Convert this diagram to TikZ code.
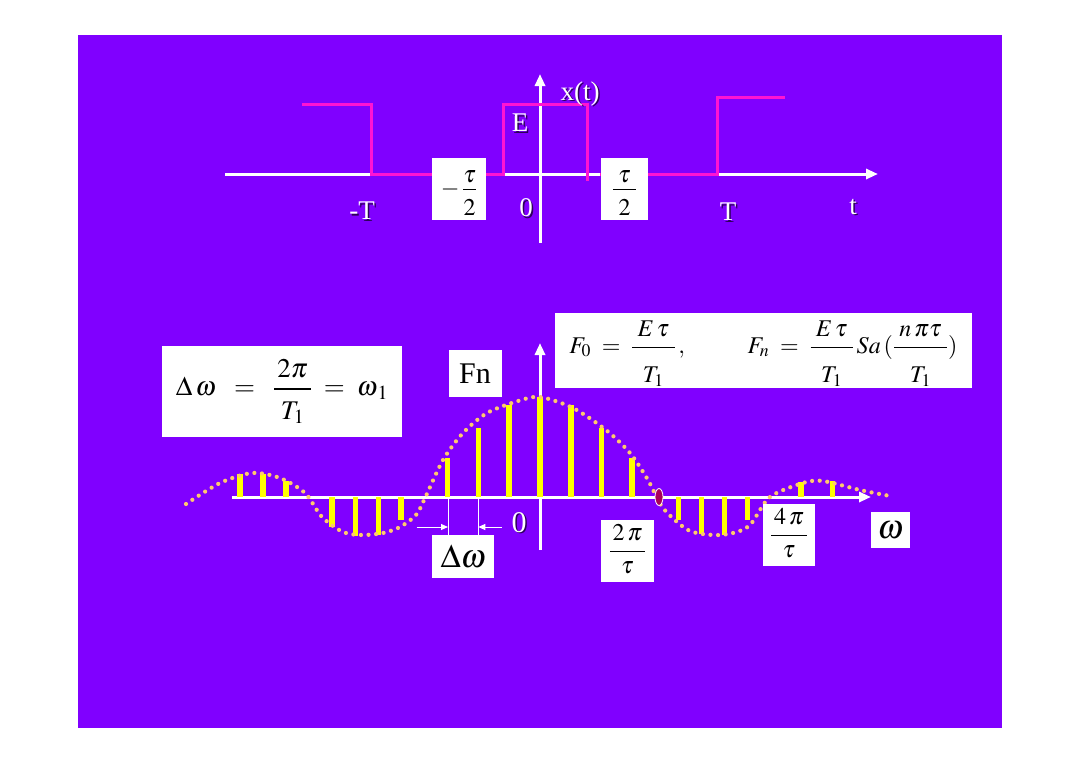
\documentclass[tikz,border=0pt]{standalone}
\usepackage{mathptmx}
\usepackage{fontspec}
\setmainfont{Liberation Serif}
\usetikzlibrary{arrows.meta,positioning}

\definecolor{slidebg}{RGB}{128,0,255}
\definecolor{pulsepink}{RGB}{255,20,210}
\definecolor{baryellow}{RGB}{255,255,0}
\definecolor{dotorange}{RGB}{255,200,110}
\definecolor{zerored}{RGB}{170,0,90}
\definecolor{shadowviolet}{RGB}{45,0,90}

\newcommand\fs[1]{\fontsize{#1}{#1}\selectfont}
\newcommand\bfrac[3][1.1em]{{\displaystyle\frac{#2}{\rule{0pt}{#1}#3}}}
\newcommand\lowtau{\raisebox{-4pt}{$\tau$}}
\newcommand\shlabel[4]{%
	\node[lblshadow,font=\fs{#3}] at ([xshift=1.5pt,yshift=-1.5pt]#2) {#4};
	\node[lbl,font=\fs{#3}] (#1) at (#2) {#4};}

\tikzset{
	axisline/.style={white, line width=3pt, -{Triangle[length=12pt,width=10pt]}},
	pulseline/.style={pulsepink, line width=3pt},
	wbox/.style={fill=white, inner sep=0pt, text=black},
	lbl/.style={text=white, inner sep=0pt},
	lblshadow/.style={text=shadowviolet, inner sep=0pt},
	specline/.style={baryellow, line width=5.5pt},
	dotcurve/.style={dotorange, line width=4.2pt, line cap=round, dash pattern=on 0pt off 7.6pt},
	dwline/.style={white, line width=1pt},
	dwarrow/.style={white, line width=1pt, -{Triangle[length=7pt,width=6pt]}}
}

\begin{document}
\begin{tikzpicture}[x=1pt,y=-1pt]
	\useasboundingbox (0,0) rectangle (1080,763);
	\fill[white] (0,0) rectangle (1080,763);
	\fill[slidebg] (78,35) rectangle (1002,728);

	% time signal
	\draw [axisline] (225,174) -- (878,174);
	\draw [axisline] (540,243) -- (540,74);

	\draw [pulseline] (302,104) -- (371,104) -- (371,174) -- (503,174) -- (503,104) -- (587,104) -- (587,181);
	\draw [pulseline] (600,174) -- (717,174) -- (717,97) -- (785,97);

	\node [wbox, minimum width=54, minimum height=62, text height=20pt, text depth=8pt, font=\fs{24}] (mhalf) at (459,189) {$-\,\bfrac[0.95em]{\lowtau}{2}$};
	\node [wbox, minimum width=47, minimum height=62, text height=20pt, text depth=8pt, font=\fs{24}] (phalf) at (624.5,189) {$\bfrac[0.95em]{\;\lowtau\;}{2}$};

	\shlabel{xt}{580,94}{27}{x(t)}
	\shlabel{amp}{520,123}{27}{E}
	\shlabel{mT}{362,211}{27}{-T}
	\shlabel{orig}{526,208}{27}{0}
	\shlabel{pT}{728,212}{27}{T}
	\shlabel{tlab}{853,207}{27}{t}

	% spectrum
	\draw [axisline] (232,497) -- (871,497);
	\draw [axisline] (540,550) -- (540,343);

	\foreach \x/\y in {240/474, 263/474, 286/481, 332/527, 355.5/535.5, 378.5/535, 401/520,
		447.5/458, 478.3/428, 509/404.5, 540/397, 570.8/405, 601.4/428, 632.2/458,
		678.6/520, 701.6/534, 724.6/535, 747.6/520, 801.2/481.7, 832.3/480.5}
		\draw [specline] (\x,497) -- (\x,\y);

	\draw [dotcurve] plot [smooth] coordinates {(186,504) (220,483) (252,473) (280,478) (305,493)
		(322,517) (343,532) (362,535) (383,533) (400,527) (416,515) (425,498) (443,460)
		(463,433) (487,413) (518,401) (540,397) (573,408) (606,430) (630,453) (648,480)
		(663,508) (688,530) (713,535) (733,533) (750,525) (770,497) (803,483) (823,481)
		(860,490) (890,496)};

	\filldraw [fill=zerored, draw=white, line width=0.8pt] (659,497) ellipse (4 and 8.5);

	\node [wbox, minimum width=240, minimum height=91, text height=20pt, text depth=11.5pt, font=\fs{27}] (dwdef) at (282,391.5)
		{$\Delta\,\omega\;\;=\;\;\bfrac[1.0em]{\,2\pi\,}{T_1}\;=\;\omega_{\,1}$\hspace{5pt}};
	\node [wbox, minimum width=53, minimum height=47, font=\fs{30}] (fn) at (475,373.5) {Fn};
	\node [wbox, minimum width=417, minimum height=75, text height=15pt, text depth=10pt, font=\fs{24}] (coef) at (763.5,350.5)
		{$F_{0}\;=\;\bfrac[1.35em]{\;E\,\tau\;}{T_{1}}\,,\hspace{60pt}F_{n}\;=\;\bfrac[1.35em]{\;E\,\tau\;}{T_{1}}\,Sa\,(\bfrac[1.35em]{\;n\,\pi\tau\;}{T_{1}})$};

	\coordinate (dwl) at (448,535);
	\coordinate (dwr) at (478.3,535);
	\draw [dwline] (448,497) -- (dwl);
	\draw [dwline] (478.3,497) -- (dwr);
	\draw [dwarrow] (416.7,527) -- (448,527);
	\draw [dwarrow] (501.7,527) -- (478.3,527);

	\node [wbox, minimum width=62, minimum height=43, font=\fs{33}] (dw) at (463.3,556.7) {$\Delta\omega$};
	\node [wbox, minimum width=53, minimum height=62, text height=20pt, text depth=8pt, font=\fs{24}] (twopi) at (627.5,551) {$\bfrac[0.5em]{\,2\,\pi\,}{\tau}$};
	\node [wbox, minimum width=52, minimum height=62, text height=20pt, text depth=8pt, font=\fs{24}] (fourpi) at (789,535) {$\bfrac[0.5em]{\,4\,\pi\,}{\tau}$};
	\node [wbox, minimum width=39, minimum height=35.5, font=\fs{34}] (om) at (890.5,530) {$\omega$};

	\shlabel{orig2}{519,522.5}{30}{0}
\end{tikzpicture}
\end{document}
